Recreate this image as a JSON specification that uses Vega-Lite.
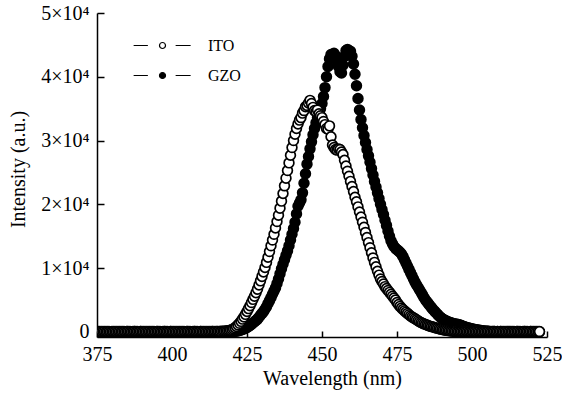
{
"$schema":"https://vega.github.io/schema/vega-lite/v6.json",
"width":450,"height":324,
"autosize":{"type":"none"},
"padding":{"left":97,"top":13,"right":15,"bottom":64},
"background":"white",
"config":{"view":{"stroke":null},"font":"Liberation Serif",
 "axis":{"grid":false,"labelFlush":false,"domainColor":"black","domainWidth":1.5,"tickColor":"black","tickWidth":1.5,"labelFont":"Liberation Serif","labelFontSize":20,"labelColor":"black","titleFont":"Liberation Serif","titleFontSize":20,"titleFontWeight":"normal","titleColor":"black"},
 "legend":{"orient":"none","legendX":57,"legendY":24,"title":null,"labelFont":"Liberation Serif","labelFontSize":16,"labelColor":"black","symbolType":"M-3.85,0H-1.95M1.75,0H3.75M0.4,0A0.4,0.4,0,1,1,-0.4,0A0.4,0.4,0,1,1,0.4,0Z","symbolSize":225,"symbolStrokeColor":"black","symbolStrokeWidth":1.2,"labelOffset":37,"rowPadding":13,"padding":0}
},
"data":{"values":[
{"w":375,"ITO":60,"GZO":40},{"w":375.5,"ITO":40,"GZO":60},{"w":376,"ITO":50,"GZO":30},{"w":376.5,"ITO":30,"GZO":50},{"w":377,"ITO":70,"GZO":40},{"w":377.5,"ITO":50,"GZO":20},{"w":378,"ITO":20,"GZO":50},{"w":378.5,"ITO":40,"GZO":70},{"w":379,"ITO":60,"GZO":40},{"w":379.5,"ITO":30,"GZO":30},
{"w":380,"ITO":60,"GZO":40},{"w":380.5,"ITO":40,"GZO":60},{"w":381,"ITO":50,"GZO":30},{"w":381.5,"ITO":30,"GZO":50},{"w":382,"ITO":70,"GZO":40},{"w":382.5,"ITO":50,"GZO":20},{"w":383,"ITO":20,"GZO":50},{"w":383.5,"ITO":40,"GZO":70},{"w":384,"ITO":60,"GZO":40},{"w":384.5,"ITO":30,"GZO":30},
{"w":385,"ITO":50,"GZO":50},{"w":385.5,"ITO":70,"GZO":30},{"w":386,"ITO":40,"GZO":60},{"w":386.5,"ITO":20,"GZO":40},{"w":387,"ITO":50,"GZO":20},{"w":387.5,"ITO":60,"GZO":50},{"w":388,"ITO":30,"GZO":70},{"w":388.5,"ITO":50,"GZO":40},{"w":389,"ITO":40,"GZO":30},{"w":389.5,"ITO":70,"GZO":60},
{"w":390,"ITO":60,"GZO":40},{"w":390.5,"ITO":40,"GZO":60},{"w":391,"ITO":50,"GZO":30},{"w":391.5,"ITO":30,"GZO":50},{"w":392,"ITO":70,"GZO":40},{"w":392.5,"ITO":50,"GZO":20},{"w":393,"ITO":20,"GZO":50},{"w":393.5,"ITO":40,"GZO":70},{"w":394,"ITO":60,"GZO":40},{"w":394.5,"ITO":30,"GZO":30},
{"w":395,"ITO":50,"GZO":50},{"w":395.5,"ITO":70,"GZO":30},{"w":396,"ITO":40,"GZO":60},{"w":396.5,"ITO":20,"GZO":40},{"w":397,"ITO":50,"GZO":20},{"w":397.5,"ITO":60,"GZO":50},{"w":398,"ITO":30,"GZO":70},{"w":398.5,"ITO":50,"GZO":40},{"w":399,"ITO":40,"GZO":30},{"w":399.5,"ITO":70,"GZO":60},
{"w":400,"ITO":60,"GZO":40},{"w":400.5,"ITO":40,"GZO":60},{"w":401,"ITO":50,"GZO":30},{"w":401.5,"ITO":30,"GZO":50},{"w":402,"ITO":70,"GZO":40},{"w":402.5,"ITO":50,"GZO":20},{"w":403,"ITO":20,"GZO":50},{"w":403.5,"ITO":40,"GZO":70},{"w":404,"ITO":60,"GZO":40},{"w":404.5,"ITO":30,"GZO":30},
{"w":405,"ITO":50,"GZO":50},{"w":405.5,"ITO":70,"GZO":30},{"w":406,"ITO":40,"GZO":60},{"w":406.5,"ITO":20,"GZO":40},{"w":407,"ITO":50,"GZO":20},{"w":407.5,"ITO":60,"GZO":50},{"w":408,"ITO":30,"GZO":70},{"w":408.5,"ITO":50,"GZO":40},{"w":409,"ITO":40,"GZO":30},{"w":409.5,"ITO":70,"GZO":60},
{"w":410,"ITO":60,"GZO":40},{"w":410.5,"ITO":40,"GZO":60},{"w":411,"ITO":50,"GZO":30},{"w":411.5,"ITO":30,"GZO":50},{"w":412,"ITO":70,"GZO":40},{"w":412.5,"ITO":50,"GZO":20},{"w":413,"ITO":40,"GZO":50},{"w":413.5,"ITO":60,"GZO":70},{"w":414,"ITO":50,"GZO":40},{"w":414.5,"ITO":70,"GZO":30},
{"w":415,"ITO":60,"GZO":50},{"w":415.5,"ITO":80,"GZO":30},{"w":416,"ITO":70,"GZO":60},{"w":416.5,"ITO":90,"GZO":40},{"w":417,"ITO":100,"GZO":50},{"w":417.5,"ITO":120,"GZO":60},{"w":418,"ITO":150,"GZO":50},{"w":418.5,"ITO":180,"GZO":70},{"w":419,"ITO":220,"GZO":60},{"w":419.5,"ITO":280,"GZO":50},
{"w":420,"ITO":380,"GZO":70},{"w":420.5,"ITO":500,"GZO":60},{"w":421,"ITO":650,"GZO":80},{"w":421.5,"ITO":850,"GZO":120},{"w":422,"ITO":1100,"GZO":170},{"w":422.5,"ITO":1350,"GZO":230},{"w":423,"ITO":1650,"GZO":300},{"w":423.5,"ITO":2000,"GZO":380},{"w":424,"ITO":2350,"GZO":470},{"w":424.5,"ITO":2750,"GZO":580},
{"w":425,"ITO":3200,"GZO":700},{"w":425.5,"ITO":3650,"GZO":850},{"w":426,"ITO":4100,"GZO":1000},{"w":426.5,"ITO":4600,"GZO":1200},{"w":427,"ITO":5100,"GZO":1400},{"w":427.5,"ITO":5600,"GZO":1600},{"w":428,"ITO":6150,"GZO":1800},{"w":428.5,"ITO":6700,"GZO":2000},{"w":429,"ITO":7350,"GZO":2300},{"w":429.5,"ITO":8000,"GZO":2600},
{"w":430,"ITO":8700,"GZO":2900},{"w":430.5,"ITO":9400,"GZO":3200},{"w":431,"ITO":10100,"GZO":3550},{"w":431.5,"ITO":10900,"GZO":3950},{"w":432,"ITO":11700,"GZO":4450},{"w":432.5,"ITO":12600,"GZO":4900},{"w":433,"ITO":13500,"GZO":5400},{"w":433.5,"ITO":14400,"GZO":5900},{"w":434,"ITO":15300,"GZO":6400},{"w":434.5,"ITO":16300,"GZO":6900},
{"w":435,"ITO":17300,"GZO":7600},{"w":435.5,"ITO":18300,"GZO":8300},{"w":436,"ITO":19400,"GZO":9100},{"w":436.5,"ITO":20500,"GZO":9900},{"w":437,"ITO":21700,"GZO":10600},{"w":437.5,"ITO":22900,"GZO":11300},{"w":438,"ITO":24100,"GZO":12000},{"w":438.5,"ITO":25300,"GZO":12700},{"w":439,"ITO":26500,"GZO":13500},{"w":439.5,"ITO":27700,"GZO":14400},
{"w":440,"ITO":28900,"GZO":15300},{"w":440.5,"ITO":30000,"GZO":16200},{"w":441,"ITO":31000,"GZO":17200},{"w":441.5,"ITO":31900,"GZO":18500},{"w":442,"ITO":32600,"GZO":19700},{"w":442.5,"ITO":33200,"GZO":20200},{"w":443,"ITO":33600,"GZO":20700},{"w":443.5,"ITO":34300,"GZO":21800},{"w":444,"ITO":34700,"GZO":23300},{"w":444.5,"ITO":35300,"GZO":24800},
{"w":445,"ITO":35500,"GZO":26300},{"w":445.5,"ITO":35900,"GZO":27500},{"w":446,"ITO":36300,"GZO":28700},{"w":446.5,"ITO":35800,"GZO":29800},{"w":447,"ITO":35200,"GZO":30900},{"w":447.5,"ITO":34700,"GZO":31900},{"w":448,"ITO":34500,"GZO":32800},{"w":448.5,"ITO":34800,"GZO":33600},{"w":449,"ITO":34200,"GZO":34300},{"w":449.5,"ITO":33900,"GZO":35000},
{"w":450,"ITO":33600,"GZO":35800},{"w":450.5,"ITO":33000,"GZO":36900},{"w":451,"ITO":32500,"GZO":38300},{"w":451.5,"ITO":31900,"GZO":40000},{"w":452,"ITO":31800,"GZO":41600},{"w":452.5,"ITO":32300,"GZO":42800},{"w":453,"ITO":30600,"GZO":43500},{"w":453.5,"ITO":29300,"GZO":43300},{"w":454,"ITO":28900,"GZO":43700},{"w":454.5,"ITO":28600,"GZO":43300},
{"w":455,"ITO":28500,"GZO":42500},{"w":455.5,"ITO":28700,"GZO":41600},{"w":456,"ITO":28600,"GZO":40800},{"w":456.5,"ITO":28200,"GZO":40600},{"w":457,"ITO":27800,"GZO":41800},{"w":457.5,"ITO":26900,"GZO":43200},{"w":458,"ITO":26000,"GZO":44100},{"w":458.5,"ITO":25200,"GZO":44300},{"w":459,"ITO":24400,"GZO":43800},{"w":459.5,"ITO":23600,"GZO":44000},
{"w":460,"ITO":22800,"GZO":43200},{"w":460.5,"ITO":22000,"GZO":42000},{"w":461,"ITO":21100,"GZO":40400},{"w":461.5,"ITO":20400,"GZO":38600},{"w":462,"ITO":19600,"GZO":36600},{"w":462.5,"ITO":18800,"GZO":34800},{"w":463,"ITO":18000,"GZO":33300},{"w":463.5,"ITO":17200,"GZO":32000},{"w":464,"ITO":16400,"GZO":30800},{"w":464.5,"ITO":15600,"GZO":29700},
{"w":465,"ITO":14800,"GZO":28600},{"w":465.5,"ITO":14000,"GZO":27600},{"w":466,"ITO":13200,"GZO":26600},{"w":466.5,"ITO":12400,"GZO":25600},{"w":467,"ITO":11600,"GZO":24600},{"w":467.5,"ITO":10900,"GZO":23600},{"w":468,"ITO":10200,"GZO":22700},{"w":468.5,"ITO":9500,"GZO":21800},{"w":469,"ITO":8900,"GZO":20900},{"w":469.5,"ITO":8300,"GZO":20000},
{"w":470,"ITO":7900,"GZO":19200},{"w":470.5,"ITO":7500,"GZO":18400},{"w":471,"ITO":7100,"GZO":17500},{"w":471.5,"ITO":6800,"GZO":16700},{"w":472,"ITO":6500,"GZO":15800},{"w":472.5,"ITO":6200,"GZO":15000},{"w":473,"ITO":5900,"GZO":14300},{"w":473.5,"ITO":5600,"GZO":13800},{"w":474,"ITO":5300,"GZO":13400},{"w":474.5,"ITO":5000,"GZO":13100},
{"w":475,"ITO":4600,"GZO":12900},{"w":475.5,"ITO":4300,"GZO":12700},{"w":476,"ITO":4000,"GZO":12500},{"w":476.5,"ITO":3750,"GZO":12200},{"w":477,"ITO":3500,"GZO":11800},{"w":477.5,"ITO":3300,"GZO":11300},{"w":478,"ITO":3100,"GZO":10800},{"w":478.5,"ITO":2900,"GZO":10300},{"w":479,"ITO":2700,"GZO":9800},{"w":479.5,"ITO":2500,"GZO":9300},
{"w":480,"ITO":2350,"GZO":8800},{"w":480.5,"ITO":2200,"GZO":8300},{"w":481,"ITO":2050,"GZO":7800},{"w":481.5,"ITO":1900,"GZO":7400},{"w":482,"ITO":1750,"GZO":7000},{"w":482.5,"ITO":1600,"GZO":6600},{"w":483,"ITO":1480,"GZO":6200},{"w":483.5,"ITO":1370,"GZO":5800},{"w":484,"ITO":1260,"GZO":5400},{"w":484.5,"ITO":1160,"GZO":5000},
{"w":485,"ITO":1070,"GZO":4700},{"w":485.5,"ITO":980,"GZO":4400},{"w":486,"ITO":900,"GZO":4100},{"w":486.5,"ITO":830,"GZO":3800},{"w":487,"ITO":760,"GZO":3500},{"w":487.5,"ITO":690,"GZO":3250},{"w":488,"ITO":620,"GZO":3000},{"w":488.5,"ITO":560,"GZO":2750},{"w":489,"ITO":500,"GZO":2500},{"w":489.5,"ITO":440,"GZO":2300},
{"w":490,"ITO":380,"GZO":2100},{"w":490.5,"ITO":330,"GZO":1950},{"w":491,"ITO":280,"GZO":1820},{"w":491.5,"ITO":240,"GZO":1700},{"w":492,"ITO":200,"GZO":1600},{"w":492.5,"ITO":170,"GZO":1500},{"w":493,"ITO":140,"GZO":1420},{"w":493.5,"ITO":110,"GZO":1350},{"w":494,"ITO":90,"GZO":1300},{"w":494.5,"ITO":80,"GZO":1250},
{"w":495,"ITO":70,"GZO":1200},{"w":495.5,"ITO":60,"GZO":1150},{"w":496,"ITO":50,"GZO":1100},{"w":496.5,"ITO":60,"GZO":1000},{"w":497,"ITO":40,"GZO":900},{"w":497.5,"ITO":50,"GZO":820},{"w":498,"ITO":70,"GZO":740},{"w":498.5,"ITO":40,"GZO":670},{"w":499,"ITO":30,"GZO":600},{"w":499.5,"ITO":50,"GZO":540},
{"w":500,"ITO":60,"GZO":480},{"w":500.5,"ITO":40,"GZO":430},{"w":501,"ITO":50,"GZO":380},{"w":501.5,"ITO":30,"GZO":340},{"w":502,"ITO":70,"GZO":300},{"w":502.5,"ITO":50,"GZO":260},{"w":503,"ITO":20,"GZO":220},{"w":503.5,"ITO":40,"GZO":190},{"w":504,"ITO":60,"GZO":160},{"w":504.5,"ITO":30,"GZO":130},
{"w":505,"ITO":50,"GZO":100},{"w":505.5,"ITO":70,"GZO":90},{"w":506,"ITO":40,"GZO":70},{"w":506.5,"ITO":20,"GZO":60},{"w":507,"ITO":50,"GZO":50},{"w":507.5,"ITO":60,"GZO":60},{"w":508,"ITO":30,"GZO":40},{"w":508.5,"ITO":50,"GZO":50},{"w":509,"ITO":40,"GZO":30},{"w":509.5,"ITO":70,"GZO":60},
{"w":510,"ITO":60,"GZO":40},{"w":510.5,"ITO":40,"GZO":60},{"w":511,"ITO":50,"GZO":30},{"w":511.5,"ITO":30,"GZO":50},{"w":512,"ITO":70,"GZO":40},{"w":512.5,"ITO":50,"GZO":20},{"w":513,"ITO":20,"GZO":50},{"w":513.5,"ITO":40,"GZO":70},{"w":514,"ITO":60,"GZO":40},{"w":514.5,"ITO":30,"GZO":30},
{"w":515,"ITO":50,"GZO":50},{"w":515.5,"ITO":70,"GZO":30},{"w":516,"ITO":40,"GZO":60},{"w":516.5,"ITO":20,"GZO":40},{"w":517,"ITO":50,"GZO":20},{"w":517.5,"ITO":60,"GZO":50},{"w":518,"ITO":30,"GZO":70},{"w":518.5,"ITO":50,"GZO":40},{"w":519,"ITO":40,"GZO":30},{"w":519.5,"ITO":70,"GZO":60},
{"w":520,"ITO":60,"GZO":40},{"w":520.5,"ITO":40,"GZO":60},{"w":521,"ITO":50,"GZO":30},{"w":521.5,"ITO":30,"GZO":50},{"w":522,"ITO":70,"GZO":40},{"w":522.5,"ITO":50,"GZO":20}
]},
"transform":[{"fold":["ITO","GZO"],"as":["series","value"]}],
"encoding":{
 "x":{"field":"w","type":"quantitative","scale":{"domain":[375,525],"nice":false,"zero":false},
  "axis":{"title":"Wavelength (nm)","values":[375,400,425,450,475,500,525],"format":"d","labelFlush":false,"tickSize":-6,"labelPadding":13,"titleX":235,"titleY":47,"titleBaseline":"alphabetic"}},
 "y":{"field":"value","type":"quantitative","scale":{"domain":[-800,50000],"nice":false,"zero":false},
  "axis":{"title":"Intensity (a.u.)","values":[0,10000,20000,30000,40000,50000],"labelExpr":"datum.value == 0 ? '0' : (datum.value/10000) + '×10⁴'","labelFlush":false,"tickSize":-7,"labelPadding":15,"titleX":-73,"titleY":156,"titleBaseline":"alphabetic"}},
 "fill":{"field":"series","type":"nominal","scale":{"domain":["ITO","GZO"],"range":["white","black"]},"legend":{"orient":"none","legendX":57,"legendY":24}}
},
"layer":[
 {"transform":[{"filter":"datum.series == 'GZO'"}],"mark":{"type":"point","shape":"circle","filled":true,"size":95,"stroke":"black","strokeWidth":1.7,"opacity":1,"clip":true}},
 {"transform":[{"filter":"datum.series == 'ITO'"}],"mark":{"type":"point","shape":"circle","filled":true,"size":95,"stroke":"black","strokeWidth":1.7,"opacity":1,"clip":true}}
]
}
